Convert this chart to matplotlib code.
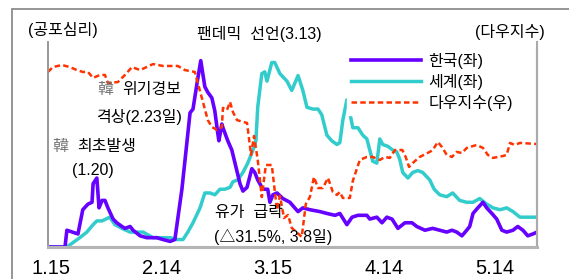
import matplotlib
matplotlib.use("Agg")
import matplotlib.pyplot as plt
from matplotlib.patches import Rectangle

plt.rcParams['font.family'] = ['Liberation Sans', 'Noto Sans CJK KR']

# x = days after 1.15 (2020)
kor_day = [-0.8, 3.8, 4.3, 7.3, 8.6, 10.0, 11.1, 11.4, 12.4, 13.0, 13.8, 14.6, 15.4, 16.8, 17.8, 19.2,
           20.0, 21.4, 22.2, 24.1, 25.9, 27.6, 28.6, 30.3, 32.2, 33.5, 35.4, 36.8, 37.6, 38.4, 39.5,
           40.5, 41.6, 42.4, 43.5, 44.3, 45.1, 45.4, 46.2, 46.5, 47.8, 48.9, 51.1, 51.9, 53.0, 54.3,
           55.1, 55.9, 57.3, 58.6, 59.2, 60.0, 61.1, 62.7, 64.6, 65.9, 66.8, 68.1, 70.0, 72.7, 74.6,
           76.8, 78.1, 80.0, 81.4, 83.0, 85.4, 86.2, 88.1, 89.5, 90.8, 92.2, 93.8, 95.7, 97.6, 98.9,
           101.1, 103.2, 105.1, 107.0, 108.4, 109.7, 111.1, 112.4, 113.2, 114.1, 115.4, 116.8, 117.8,
           119.2, 120.5, 121.9, 123.2, 124.9, 126.2, 127.6, 128.9, 130.3, 131.4]
kor_val = [0, 0, 9, 7, 20, 23, 24, 34, 37, 21, 25, 25, 21, 15, 13, 11,
           10, 11, 9, 6, 5, 5, 5, 4, 3, 4, 31, 57, 72, 74, 88,
           100, 86, 83, 80, 73, 61, 57, 66, 64, 57, 52, 34, 30, 32, 42,
           40, 36, 31, 31, 24, 28, 29, 26, 24, 21, 19, 21, 20, 19, 18,
           17, 18, 12, 16, 17, 17, 15, 16, 13, 16, 15, 10, 13, 13, 11,
           9, 10, 9, 8, 9, 8, 6, 9, 11, 18, 21, 24, 21,
           18, 15, 9, 8, 9, 11, 9, 6, 7, 8]

world_day = [-0.8, 4.3, 5.7, 7.8, 9.7, 11.4, 12.4, 13.8, 15.9, 17.3, 19.2, 21.4, 22.2, 24.9, 27.6,
             29.5, 32.2, 34.1, 35.7, 37.0, 38.4, 40.3, 41.6, 43.0, 44.3, 45.7, 47.0, 48.4, 49.2,
             50.5, 51.9, 53.2, 54.6, 55.4, 55.9, 57.0, 57.8, 58.4, 59.7, 60.5, 61.9, 63.8, 65.1,
             66.8, 68.1, 69.2, 70.8, 72.2, 73.2, 74.6, 75.9, 77.3, 78.1, 78.9, 80.0, 80.8, 81.6,
             83.0, 84.3, 85.4, 86.2, 87.0, 88.1, 88.9, 89.7, 91.1, 92.4, 93.5, 94.3, 95.1, 96.5,
             97.8, 99.2, 100.5, 102.4, 103.6, 105.1, 107.0, 108.6, 110.5, 112.4, 114.1, 115.9,
             117.8, 119.5, 121.4, 123.2, 124.9, 126.8, 128.6, 131.4]
world_val = [0, 0, 2, 5, 8, 12, 14, 14, 16, 12, 10, 8, 8, 8, 5,
             5, 5, 4, 4, 8, 13, 21, 29, 29, 28, 31, 31, 32, 35,
             36, 40, 45, 52, 57, 75, 93, 94, 89, 99, 99, 93, 89, 84,
             92, 84, 75, 74, 74, 71, 60, 57, 55, 56, 68, 79, 72, 64,
             64, 60, 58, 52, 46, 45, 58, 55, 54, 52, 51, 47, 40, 37,
             40, 41, 40, 36, 31, 28, 27, 29, 25, 24, 24, 26,
             23, 21, 20, 21, 19, 16, 16, 16]

dow_day = [-0.8, 0.5, 3.0, 5.1, 7.0, 8.6, 10.0, 11.4, 13.2, 14.6, 15.4, 18.1, 20.0, 21.9, 24.1,
           27.6, 30.3, 34.3, 36.2, 38.9, 39.7, 40.8, 42.4, 43.5, 44.9, 46.2, 46.5, 47.6, 48.4,
           49.2, 50.3, 51.9, 53.0, 54.1, 54.9, 55.9, 57.0, 58.1, 59.7, 61.1, 61.9, 63.0, 64.1,
           65.1, 67.8, 68.9, 70.0, 71.1, 72.2, 73.5, 74.9, 76.2, 77.3, 78.1, 78.9, 80.8, 81.6,
           83.5, 85.4, 87.0, 88.9, 90.3, 91.6, 93.0, 95.0, 95.9, 96.8, 98.1, 99.7, 102.4, 103.2,
           104.6, 105.7, 107.0, 108.4, 109.7, 111.1, 112.4, 113.2, 115.1, 116.8, 118.1, 119.5,
           120.8, 122.2, 123.2, 124.1, 125.4, 126.8, 131.4]
dow_val = [29100, 29410, 29540, 29410, 29220, 29100, 29100, 28720, 28910, 28910, 28400, 28460, 28910, 29410, 29220,
           29600, 29480, 29480, 29220, 29100, 28400, 27450, 26050, 25610, 25420, 25610, 26820, 26690, 27200,
           26560, 26050, 25930, 25870, 23840, 25040, 23520, 21170, 23200, 23200, 20350, 21240, 19840, 20030,
           19210, 18640, 20730, 21170, 22440, 21740, 21740, 22380, 21490, 21300, 21490, 21110, 21110, 22190,
           23520, 23710, 23710, 23520, 23710, 23650, 24150, 24150, 23710, 23080, 23390, 23710, 24030, 24150,
           24660, 24340, 23840, 23710, 24030, 23960, 24280, 24340, 24470, 24280, 23840, 23650,
           23710, 23770, 23840, 24600, 24470, 24600, 24530]

tick_days = [0, 30, 60, 90, 120]
tick_labels = ["1.15", "2.14", "3.15", "4.14", "5.14"]

W, H = 569, 279
fig = plt.figure(figsize=(W / 100, H / 100), dpi=100)


def fx(x):
    return x / W


def fy(y):
    return 1 - y / H


# outer frame
fig.patches.append(Rectangle((fx(12), -0.1), 1.2, fy(9.5) + 0.1, transform=fig.transFigure,
                             fill=False, edgecolor='#8c8c8c', lw=1.3))

ax = fig.add_axes([fx(48), fy(247), fx(537) - fx(48), fy(42) - fy(247)])
ax2 = ax.twinx()

l2, = ax.plot(world_day, world_val, color='#33cccc', lw=2.5, solid_joinstyle='round')
l1, = ax.plot(kor_day, kor_val, color='#6600ff', lw=2.6, solid_joinstyle='round')
l3, = ax2.plot(dow_day, dow_val, color='#ff3300', lw=1.8, ls=(0, (2.2, 1.3)))

ax.set_xlim(-0.8, 131.4)
ax.set_ylim(0, 110)
ax2.set_ylim(18000, 31000)

ax.set_xticks(tick_days)
ax.set_xticklabels(tick_labels, fontsize=14.5)
ax.tick_params(axis='x', length=0, pad=9)
ax.set_yticks([])
ax2.set_yticks([])

for a in (ax, ax2):
    a.spines['top'].set_visible(False)
    a.spines['left'].set_color('#999999')
    a.spines['left'].set_linewidth(1.3)
    a.spines['right'].set_color('#aaaaaa')
    a.spines['right'].set_linewidth(1.5)
    a.spines['bottom'].set_color('#b4b4b4')
    a.spines['bottom'].set_linewidth(2.2)
ax2.spines['right'].set_bounds(18000, 30550)

fs = 11.5
leg = ax2.legend([l1, l2, l3], ['한국(좌)', '세계(좌)', '다우지수(우)'], loc='upper left',
                 bbox_to_anchor=(fx(347), fy(49)), bbox_transform=fig.transFigure,
                 frameon=True, fancybox=False, edgecolor='white', facecolor='white', framealpha=1,
                 handlelength=4.4, handletextpad=0.45, labelspacing=0.3, borderpad=0.25,
                 borderaxespad=0, fontsize=fs)

fig.text(fx(28), fy(30), '(공포심리)', fontsize=fs, va='center')
fig.text(fx(475), fy(32), '(다우지수)', fontsize=fs, va='center')
fig.text(fx(197), fy(34), '팬데믹  선언(3.13)', fontsize=fs, va='center')
fig.text(fx(97), fy(90), '韓', fontsize=fs, va='center', color='#777777')
fig.text(fx(122), fy(90), '위기경보', fontsize=fs, va='center')
fig.text(fx(97), fy(117), '격상(2.23일)', fontsize=fs, va='center')
fig.text(fx(52), fy(147), '韓', fontsize=fs, va='center', color='#777777')
fig.text(fx(77), fy(147), '최초발생', fontsize=fs, va='center')
fig.text(fx(72), fy(170), '(1.20)', fontsize=fs, va='center')
fig.text(fx(215), fy(212), '유가  급락', fontsize=fs, va='center')
fig.text(fx(214), fy(237), '(△31.5%, 3.8일)', fontsize=fs, va='center')

fig.savefig('out.png', dpi=100)
